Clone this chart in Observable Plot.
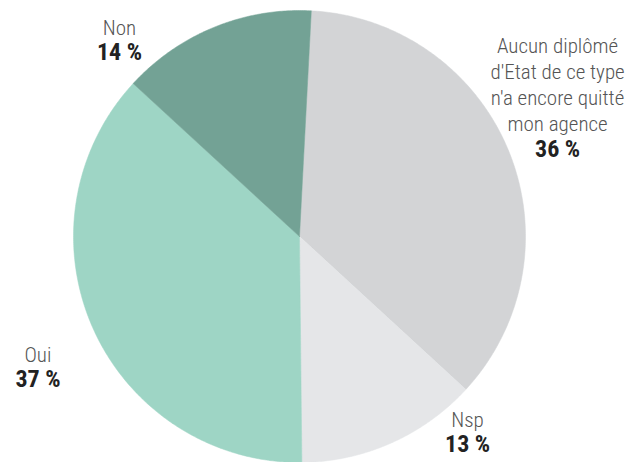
<!DOCTYPE html>
<html>
<head>
<meta charset="utf-8">
<script src="https://cdn.jsdelivr.net/npm/d3@7"></script>
<script src="https://cdn.jsdelivr.net/npm/@observablehq/plot@0.6"></script>
<style>
  html, body { margin: 0; padding: 0; background: #fff; }
  #chart svg { display: block; }
</style>
</head>
<body>
<div id="chart"></div>
<script>
// Data
const categories = ["Aucun diplômé\nd'Etat de ce type\nn'a encore quitté\nmon agence", "Nsp", "Oui", "Non"];
const values = [36, 13, 37, 14];
const percentLabels = ["36 %", "13 %", "37 %", "14 %"];
const colors = ["#d3d4d6", "#e5e6e8", "#9ed5c5", "#73a295"];

// Layout (label placement: angle in degrees clockwise from top, radius as multiple of pie radius)
const startAngleDeg = 3;
const labelAngles = [69.4, 139.8, 242.9, 317.0];
const labelRadii = [1.22, 1.152, 1.30, 1.168];

const W = 629, H = 462, R = 226, CX = 299, CY = 236;
const rad = d => d * Math.PI / 180;

const arcs = d3.pie().sort(null).startAngle(rad(startAngleDeg)).endAngle(rad(startAngleDeg) + 2 * Math.PI)
  .value(d => d.value)(categories.map((c, i) => ({name: c, value: values[i], i})));

function slicePoints(a) {
  const pts = [{x: 0, y: 0}];
  const n = Math.max(2, Math.ceil((a.endAngle - a.startAngle) / rad(0.5)));
  for (let k = 0; k <= n; k++) {
    const t = a.startAngle + (a.endAngle - a.startAngle) * k / n;
    pts.push({x: Math.sin(t), y: Math.cos(t)});
  }
  pts.push({x: 0, y: 0});
  return pts;
}

const labels = categories.map((c, i) => ({
  name: c,
  pct: percentLabels[i],
  x: labelRadii[i] * Math.sin(rad(labelAngles[i])),
  y: labelRadii[i] * Math.cos(rad(labelAngles[i]))
}));

const font = "'Roboto Condensed', 'Liberation Sans Narrow', 'DejaVu Sans Condensed', 'Arial Narrow', sans-serif";

const chart = Plot.plot({
  width: W,
  height: H,
  margin: 0,
  x: {domain: [-1, 1], range: [CX - R, CX + R], axis: null},
  y: {domain: [-1, 1], range: [CY + R, CY - R], axis: null},
  style: {fontFamily: font, background: "#fff"},
  marks: [
    ...arcs.map(a => Plot.line(slicePoints(a), {
      x: "x", y: "y", fill: colors[a.data.i], stroke: colors[a.data.i], strokeWidth: 0.5, curve: "linear"
    })),
    Plot.text(labels, {
      x: "x", y: "y", text: "name", lineAnchor: "bottom", textAnchor: "middle",
      fontSize: 21, fontWeight: 300, fill: "#555", lineHeight: 1.25, dy: -8
    }),
    Plot.text(labels, {
      x: "x", y: "y", text: "pct", lineAnchor: "top", textAnchor: "middle",
      fontSize: 24, fontWeight: "bold", fill: "#222", dy: 0
    })
  ]
});
document.getElementById("chart").appendChild(chart);
</script>
</body>
</html>
